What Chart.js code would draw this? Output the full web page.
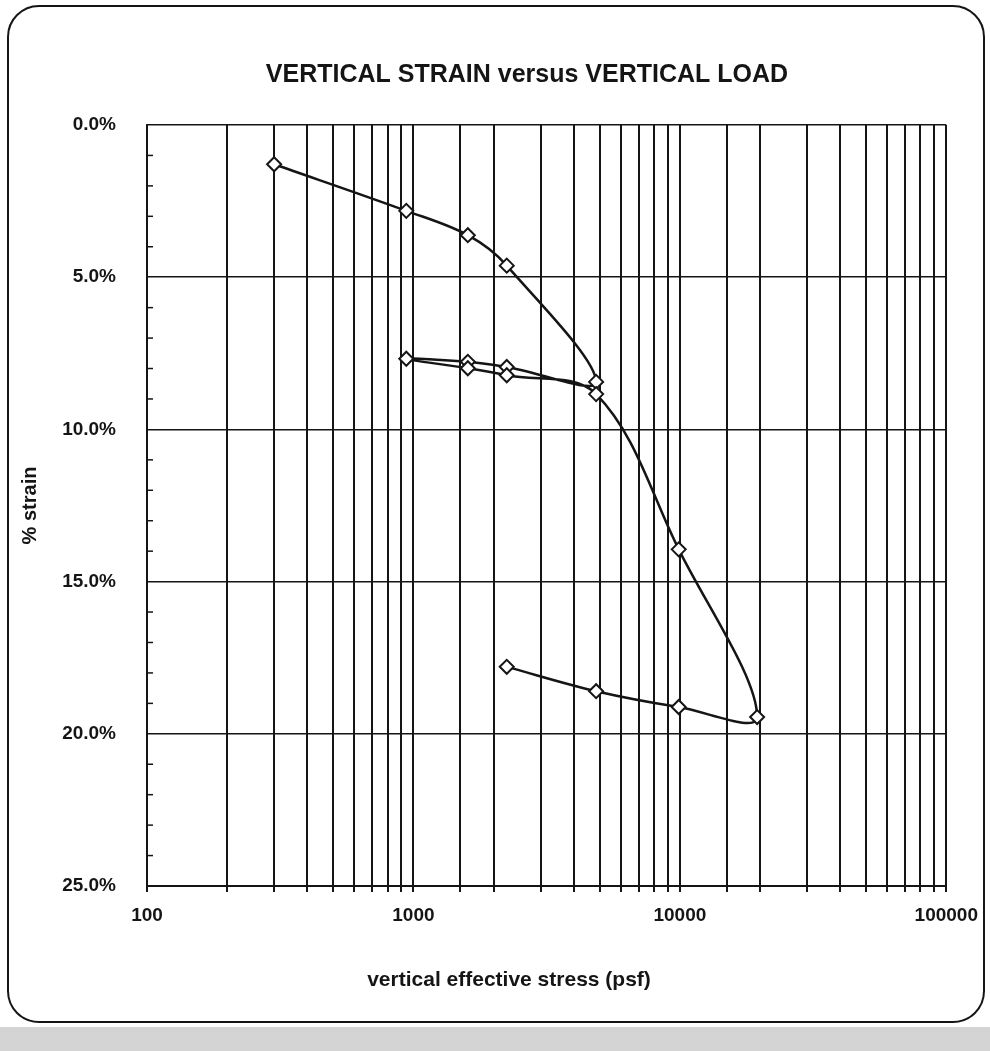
<!DOCTYPE html>
<html>
<head>
<meta charset="utf-8">
<title>Vertical strain versus vertical load</title>
<script src="https://cdn.jsdelivr.net/npm/chart.js@4.4.1/dist/chart.umd.min.js"></script>
<style>
  html, body { margin: 0; padding: 0; background: #fff; }
  #wrap { position: relative; width: 990px; height: 1051px; overflow: hidden; }
  #frame { position: absolute; left: 7px; top: 5px; width: 978px; height: 1018px;
           border: 2px solid #151515; border-radius: 32px; box-sizing: border-box; }
  #scan { position: absolute; left: 0; top: 1027px; width: 990px; height: 24px; background: #d4d4d4; }
  #chart { position: absolute; left: 0; top: 0; }
</style>
</head>
<body>
<div id="wrap">
  <div id="scan"></div>
  <div id="frame"></div>
  <canvas id="chart" width="990" height="1051"></canvas>
</div>
<script>
// oedometer test: load, unload/reload loop, load, final unload
const stressPsf = [300, 940, 1600, 2240, 4850, 2240, 1600, 940, 1600, 2240, 4850, 9900, 19500, 9900, 4850, 2240];
const strainPct = [1.29, 2.82, 3.62, 4.62, 8.44, 7.95, 7.78, 7.68, 7.99, 8.22, 8.84, 13.94, 19.45, 19.12, 18.60, 17.80];

const xLabels = [100, 1000, 10000, 100000];
const yLabels = [0, 5, 10, 15, 20, 25];

const chartTitle = 'VERTICAL STRAIN versus VERTICAL LOAD';
const xTitle = 'vertical effective stress (psf)';
const yTitle = '% strain';

const ink = '#151515';
const font = '"Liberation Sans", Arial, Helvetica, sans-serif';

// short inside ticks every 1% on the left axis, plus the two free-placed titles
const extras = {
  id: 'extras',
  afterDraw(chart) {
    const { ctx, chartArea, scales: { y } } = chart;
    ctx.save();
    ctx.strokeStyle = ink;
    ctx.lineWidth = 1.5;
    for (let v = y.min + 1; v < y.max; v++) {
      if (yLabels.includes(v)) continue;
      const py = y.getPixelForValue(v);
      ctx.beginPath();
      ctx.moveTo(chartArea.left, py);
      ctx.lineTo(chartArea.left + 6, py);
      ctx.stroke();
    }
    ctx.fillStyle = ink;
    ctx.textAlign = 'center';
    ctx.textBaseline = 'middle';
    ctx.font = 'bold 25px ' + font;
    ctx.fillText(chartTitle, chartArea.left + 380, chartArea.top - 50);
    ctx.font = 'bold 21px ' + font;
    ctx.fillText(xTitle, chartArea.left + 362, chartArea.bottom + 94);
    ctx.restore();
  }
};

const points = stressPsf.map((s, i) => ({ x: s, y: strainPct[i] }));

new Chart(document.getElementById('chart'), {
  type: 'scatter',
  data: {
    datasets: [{
      data: points,
      showLine: true,
      tension: 0.35,
      borderColor: ink,
      borderWidth: 2.5,
      pointStyle: 'rectRot',
      pointRadius: 7,
      pointBackgroundColor: '#fff',
      pointBorderColor: ink,
      pointBorderWidth: 2
    }]
  },
  options: {
    responsive: false,
    animation: false,
    devicePixelRatio: 1,
    layout: { padding: { left: 8, right: 0, top: 125, bottom: 0 } },
    plugins: { legend: { display: false }, tooltip: { enabled: false } },
    scales: {
      x: {
        type: 'logarithmic',
        min: 100,
        max: 100000,
        afterFit: (scale) => { scale.height = 165; },
        grid: { color: ink, lineWidth: 2, drawTicks: true, tickLength: 6, tickColor: ink },
        border: { display: true, color: ink, width: 2 },
        ticks: {
          autoSkip: false,
          maxRotation: 0,
          padding: 12,
          color: ink,
          font: { family: font, size: 19, weight: 'bold' },
          callback: (v) => xLabels.includes(v) ? String(v) : ''
        }
      },
      y: {
        min: 0,
        max: 25,
        reverse: true,
        afterFit: (scale) => { scale.width = 139; },
        grid: { color: ink, lineWidth: 1.5, drawTicks: false },
        border: { display: true, color: ink, width: 2 },
        ticks: {
          stepSize: 5,
          padding: 31,
          color: ink,
          font: { family: font, size: 19, weight: 'bold' },
          callback: (v) => yLabels.includes(v) ? v.toFixed(1) + '%' : ''
        },
        title: {
          display: true,
          text: yTitle,
          color: ink,
          padding: { top: 10, bottom: 0 },
          font: { family: font, size: 20, weight: 'bold' }
        }
      }
    }
  },
  plugins: [extras]
});
</script>
</body>
</html>
